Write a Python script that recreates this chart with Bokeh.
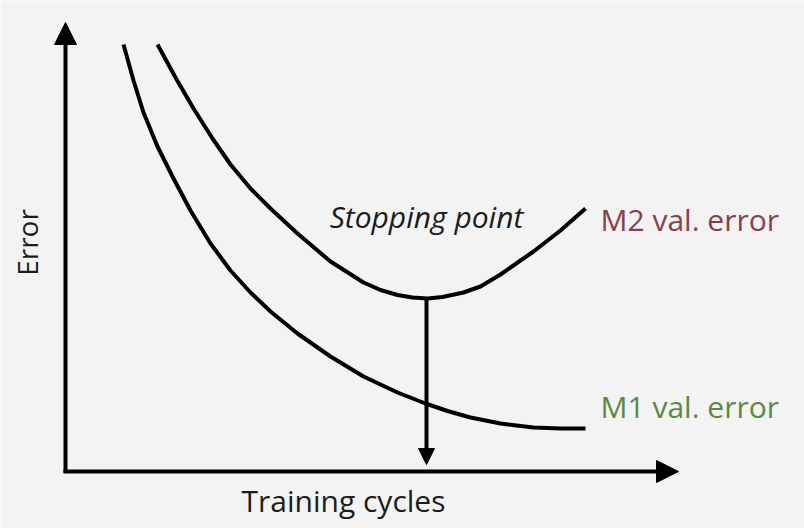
from bokeh.plotting import figure
from bokeh.models import Range1d, Arrow, NormalHead, Label, ColumnDataSource
from bokeh.embed import file_html
from bokeh.resources import INLINE
import math

# ---- data (training cycles vs. error, arbitrary units) ----
m1_cycles = [5.8, 6.8, 7.8, 9.2, 10.8, 12.5, 14.5, 16.5, 18.5, 20.5, 23.2,
             26.5, 29.8, 33.2, 36.0, 38.2, 40.5, 43.5, 46.8, 49.5, 52.0]
m1_error = [42.7, 39.1, 35.9, 32.5, 29.3, 26.1, 22.8, 20.1, 17.9, 16.0, 13.8,
            11.5, 9.5, 7.9, 6.8, 6.05, 5.4, 4.8, 4.4, 4.3, 4.3]

m2_cycles = [9.2, 11.0, 12.8, 14.7, 16.5, 18.5, 20.5, 23.2, 26.5, 29.8, 31.5,
             33.2, 34.7, 36.2, 37.7, 39.8, 41.5, 43.5, 46.8, 49.5, 52.0]
m2_error = [42.7, 39.4, 36.3, 33.3, 30.7, 28.3, 26.3, 23.8, 21.0, 18.9, 18.15,
            17.65, 17.4, 17.3, 17.45, 17.9, 18.5, 19.7, 22.0, 24.1, 26.3]

x_axis_max = 61.3
y_axis_max = 44.9
stop_cycle = 36.1
stop_error = 17.3

series_labels = ["M2 val. error", "M1 val. error"]
x_title = "Training cycles"
y_title = "Error"
stop_label = "Stopping point"

FONT = "Open Sans"
INK = "#1c1c1c"

p = figure(width=804, height=528,
           x_range=Range1d(-6.5, 73.9), y_range=Range1d(-5.7, 47.1),
           x_axis_type=None, y_axis_type=None,
           toolbar_location=None, output_backend="svg",
           min_border=0, outline_line_color=None,
           background_fill_color="#f3f3f4", border_fill_color="#f3f3f4")

# axes with arrow heads
p.add_layout(Arrow(x_start=0, y_start=-0.15, x_end=0, y_end=y_axis_max,
                   line_width=4, line_color="black",
                   end=NormalHead(size=22, fill_color="black", line_color="black", line_width=1)))
p.add_layout(Arrow(x_start=-0.2, y_start=0, x_end=x_axis_max, y_end=0,
                   line_width=4, line_color="black",
                   end=NormalHead(size=22, fill_color="black", line_color="black", line_width=1)))

# curves
src1 = ColumnDataSource(dict(x=m1_cycles, y=m1_error))
src2 = ColumnDataSource(dict(x=m2_cycles, y=m2_error))
p.line("x", "y", source=src1, line_width=4, line_color="black", line_join="round", line_cap="butt")
p.line("x", "y", source=src2, line_width=4, line_color="black", line_join="round", line_cap="butt")

# stopping point arrow
p.add_layout(Arrow(x_start=stop_cycle, y_start=stop_error, x_end=stop_cycle, y_end=0.7,
                   line_width=4, line_color="black",
                   end=NormalHead(size=16, fill_color="black", line_color="black", line_width=1)))

# texts
p.add_layout(Label(x=stop_cycle, y=25.5, text=stop_label, text_align="center",
                   text_baseline="alphabetic", text_font=FONT, text_font_size="30px",
                   text_font_style="italic", text_color=INK))
p.add_layout(Label(x=53.5, y=25.2, text=series_labels[0], text_align="left",
                   text_baseline="alphabetic", text_font=FONT, text_font_size="30px",
                   text_color="#8a3d4c"))
p.add_layout(Label(x=53.5, y=6.5, text=series_labels[1], text_align="left",
                   text_baseline="alphabetic", text_font=FONT, text_font_size="30px",
                   text_color="#5a8a3e"))
p.add_layout(Label(x=27.8, y=-2.9, text=x_title, text_align="center",
                   text_baseline="alphabetic", text_font=FONT, text_font_size="30px",
                   text_color=INK))
p.add_layout(Label(x=-3.9, y=22.9, text=y_title, text_align="center",
                   text_baseline="alphabetic", text_font=FONT, text_font_size="28px",
                   angle=math.pi / 2, text_color=INK))

open("out.html", "w").write(file_html(p, INLINE))
